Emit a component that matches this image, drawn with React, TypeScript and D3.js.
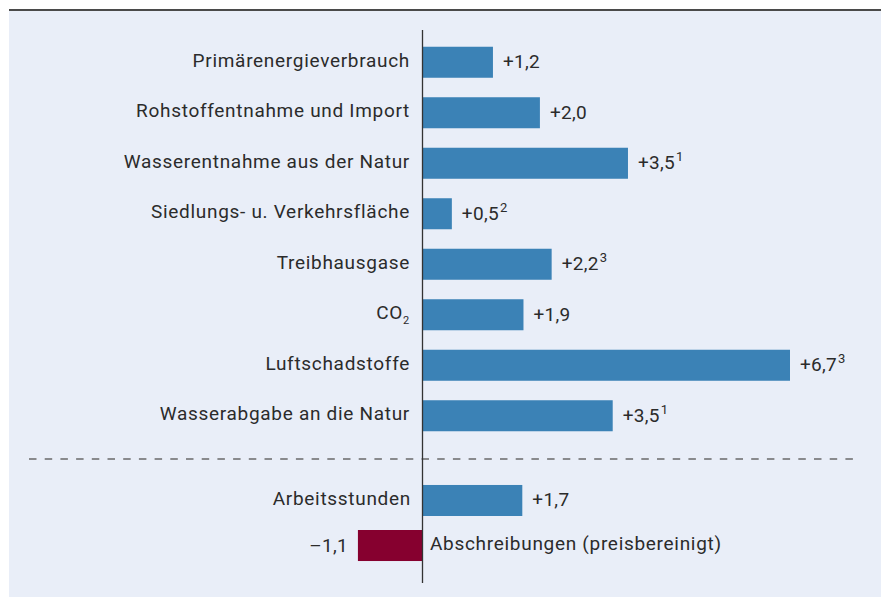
import React from "react";
import * as d3 from "d3";

const categories = [
  "Primärenergieverbrauch",
  "Rohstoffentnahme und Import",
  "Wasserentnahme aus der Natur",
  "Siedlungs- u. Verkehrsfläche",
  "Treibhausgase",
  "CO2",
  "Luftschadstoffe",
  "Wasserabgabe an die Natur",
];
// bar lengths as drawn in the picture
const barValues = [1.2, 2.0, 3.5, 0.5, 2.2, 1.72, 6.26, 3.24];
const valueLabels = ["+1,2", "+2,0", "+3,5", "+0,5", "+2,2", "+1,9", "+6,7", "+3,5"];
const footnotes = ["", "", "1", "2", "3", "", "3", "1"];

const extraCategories = ["Arbeitsstunden", "Abschreibungen (preisbereinigt)"];
const extraValues = [1.7, -1.1];
const extraLabels = ["+1,7", "–1,1"];

const W = 881;
const H = 597;
const BLUE = "#3b82b6";
const RED = "#86002f";
const BG = "#e9eef8";
const TEXT = "#2b2b2b";
const FONT = "Roboto, 'Noto Sans', sans-serif";
const FS = 19;
const LS = 0.7;

export default function App() {
  const x = d3.scaleLinear().domain([0, 6.26]).range([422.5, 790]);
  const yTop = d3.scaleBand<string>().domain(categories).range([37, 441]).paddingInner(0.386).paddingOuter(0.193);
  const yBot = d3.scaleBand<string>().domain(extraCategories).range([478, 568]).paddingInner(0.311).paddingOuter(0.155);
  const x0 = x(0);

  const catLabel = (c: string) =>
    c === "CO2" ? (
      <>
        CO<tspan fontSize={11} dy={5}>2</tspan>
      </>
    ) : (
      c
    );

  return (
    <svg width={W} height={H} style={{ position: "absolute", left: 0, top: 0 }} fontFamily={FONT}>
      <rect x={9} y={10} width={W - 9} height={H - 10} fill={BG} />
      <line x1={9} x2={W} y1={10} y2={10} stroke="#4a4a4a" strokeWidth={2} />

      {categories.map((c, i) => {
        const y = yTop(c)!;
        const bw = yTop.bandwidth();
        const cy = y + bw / 2;
        const v = barValues[i];
        return (
          <g key={c}>
            <rect x={x(Math.min(0, v))} y={y} width={Math.abs(x(v) - x0)} height={bw} fill={BLUE} />
            <text x={410} y={cy + 4.5} textAnchor="end" fontSize={FS} letterSpacing={LS} fill={TEXT}>
              {catLabel(c)}
            </text>
            <text x={x(v) + 10} y={cy + 6} fontSize={FS} letterSpacing={0.3} fill={TEXT}>
              {valueLabels[i]}
              {footnotes[i] && (
                <tspan fontSize={13} dy={-8} dx={1}>
                  {footnotes[i]}
                </tspan>
              )}
            </text>
          </g>
        );
      })}

      <line x1={29} x2={860} y1={459} y2={459} stroke="#6a6a6a" strokeWidth={1.3} strokeDasharray="7.5 8.2" />

      {extraCategories.map((c, i) => {
        const y = yBot(c)!;
        const bw = yBot.bandwidth();
        const cy = y + bw / 2;
        const v = extraValues[i];
        const neg = v < 0;
        return (
          <g key={c}>
            <rect x={x(Math.min(0, v))} y={y} width={Math.abs(x(v) - x0)} height={bw} fill={neg ? RED : BLUE} />
            <text x={neg ? x0 + 7.5 : 411} y={cy + 4.5} textAnchor={neg ? "start" : "end"} fontSize={FS} letterSpacing={LS} fill={TEXT}>
              {c}
            </text>
            <text x={neg ? x(v) - 10 : x(v) + 10} y={cy + 6} textAnchor={neg ? "end" : "start"} fontSize={FS} letterSpacing={0.3} fill={TEXT}>
              {extraLabels[i]}
            </text>
          </g>
        );
      })}

      <line x1={x0} x2={x0} y1={30} y2={583} stroke="#333" strokeWidth={1.3} />
    </svg>
  );
}
